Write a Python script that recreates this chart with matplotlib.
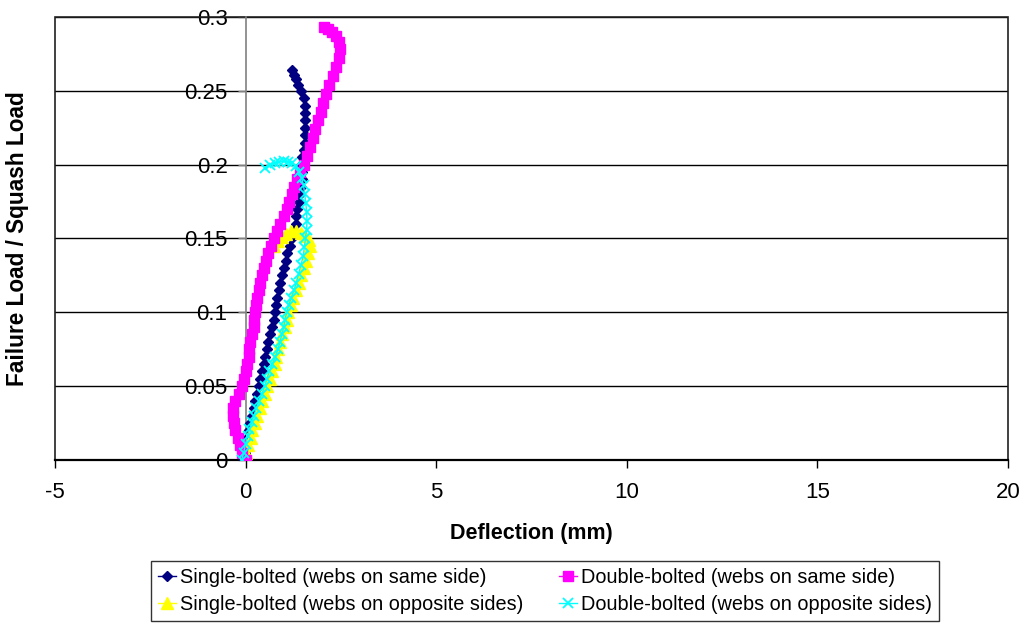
import matplotlib
matplotlib.use("Agg")
import matplotlib.pyplot as plt
from matplotlib.patches import Rectangle

plt.rcParams['font.family'] = ['Liberation Sans', 'DejaVu Sans']

# Single-bolted, webs on same side
single_same_x = [-0.03, -0.02, 0.00, 0.04, 0.08, 0.12, 0.17, 0.21, 0.25, 0.30, 0.34, 0.39,
                 0.43, 0.48, 0.52, 0.56, 0.60, 0.65, 0.69, 0.74, 0.78, 0.80, 0.82, 0.87,
                 0.91, 0.96, 1.00, 1.05, 1.09, 1.16, 1.22, 1.27, 1.31, 1.33, 1.35, 1.39,
                 1.42, 1.45, 1.48, 1.47, 1.46, 1.47, 1.53, 1.55, 1.56, 1.57, 1.57, 1.57,
                 1.55, 1.52, 1.45, 1.38, 1.32, 1.27, 1.22]
single_same_y = [0.000, 0.005, 0.010, 0.015, 0.020, 0.025, 0.030, 0.035, 0.040, 0.045, 0.050, 0.055,
                 0.060, 0.065, 0.070, 0.075, 0.080, 0.085, 0.090, 0.095, 0.100, 0.105, 0.110, 0.115,
                 0.120, 0.125, 0.130, 0.135, 0.140, 0.145, 0.150, 0.155, 0.160, 0.165, 0.170, 0.175,
                 0.180, 0.185, 0.190, 0.195, 0.200, 0.205, 0.210, 0.215, 0.220, 0.225, 0.230, 0.235,
                 0.240, 0.245, 0.250, 0.254, 0.258, 0.261, 0.264]

# Double-bolted, webs on same side
double_same_x = [0.00, -0.09, -0.14, -0.21, -0.27, -0.31, -0.33, -0.32, -0.27, -0.18, -0.10, -0.05,
                 0.00, 0.04, 0.08, 0.10, 0.12, 0.16, 0.21, 0.23, 0.25, 0.28, 0.30, 0.35,
                 0.39, 0.43, 0.47, 0.53, 0.60, 0.67, 0.74, 0.82, 0.91, 1.00, 1.08, 1.15,
                 1.22, 1.28, 1.35, 1.44, 1.53, 1.60, 1.68, 1.76, 1.83, 1.90, 1.97, 2.04,
                 2.12, 2.20, 2.28, 2.37, 2.44, 2.48, 2.44, 2.36, 2.26, 2.15, 2.05]
double_same_y = [0.000, 0.005, 0.010, 0.015, 0.020, 0.025, 0.030, 0.035, 0.040, 0.045, 0.050, 0.055,
                 0.060, 0.065, 0.070, 0.075, 0.080, 0.085, 0.090, 0.095, 0.100, 0.105, 0.110, 0.115,
                 0.120, 0.125, 0.130, 0.135, 0.140, 0.145, 0.150, 0.155, 0.160, 0.165, 0.170, 0.175,
                 0.180, 0.185, 0.190, 0.195, 0.200, 0.206, 0.212, 0.218, 0.224, 0.230, 0.236, 0.242,
                 0.248, 0.254, 0.260, 0.266, 0.272, 0.278, 0.283, 0.287, 0.290, 0.292, 0.293]

# Single-bolted, webs on opposite sides
single_opp_x = [0.00, 0.02, 0.06, 0.13, 0.18, 0.24, 0.31, 0.38, 0.44, 0.50, 0.56, 0.63,
                0.70, 0.76, 0.80, 0.85, 0.89, 0.96, 1.03, 1.08, 1.12, 1.18, 1.24, 1.31,
                1.39, 1.46, 1.52, 1.58, 1.64, 1.69, 1.66, 1.56, 1.45, 1.33, 1.20, 1.07,
                0.95, 0.84, 0.74]
single_opp_y = [0.000, 0.005, 0.010, 0.015, 0.020, 0.025, 0.030, 0.035, 0.040, 0.045, 0.050, 0.055,
                0.060, 0.065, 0.070, 0.075, 0.080, 0.085, 0.090, 0.095, 0.100, 0.105, 0.110, 0.115,
                0.120, 0.125, 0.130, 0.135, 0.140, 0.145, 0.149, 0.152, 0.154, 0.155, 0.155, 0.153,
                0.151, 0.148, 0.145]

# Double-bolted, webs on opposite sides
double_opp_x = [-0.10, -0.05, 0.00, 0.05, 0.10, 0.16, 0.22, 0.28, 0.35, 0.43, 0.50, 0.56,
                0.62, 0.70, 0.78, 0.85, 0.90, 0.95, 1.00, 1.03, 1.08, 1.13, 1.20, 1.27,
                1.33, 1.39, 1.45, 1.51, 1.54, 1.57, 1.60, 1.61, 1.60, 1.58, 1.55, 1.52,
                1.47, 1.40, 1.32, 1.22, 1.10, 1.00, 0.88, 0.76, 0.64, 0.52]
double_opp_y = [0.000, 0.005, 0.011, 0.016, 0.021, 0.026, 0.030, 0.035, 0.040, 0.045, 0.050, 0.055,
                0.060, 0.065, 0.070, 0.075, 0.080, 0.085, 0.090, 0.095, 0.100, 0.105, 0.110, 0.115,
                0.120, 0.126, 0.132, 0.138, 0.144, 0.150, 0.156, 0.162, 0.168, 0.174, 0.180, 0.186,
                0.191, 0.195, 0.199, 0.201, 0.202, 0.2025, 0.202, 0.201, 0.200, 0.198]

x_ticks = [-5, 0, 5, 10, 15, 20]
y_ticks = [0, 0.05, 0.1, 0.15, 0.2, 0.25, 0.3]
y_tick_labels = ['0', '0.05', '0.1', '0.15', '0.2', '0.25', '0.3']

fig = plt.figure(figsize=(10.29, 6.24), dpi=100)
ax = fig.add_axes([0.05345, 0.26282, 0.92614, 0.70994])

ax.plot(single_same_x, single_same_y, color='#000080', marker='D', markersize=5.5,
        linewidth=1, label='Single-bolted (webs on same side)', zorder=3)
ax.plot(single_opp_x, single_opp_y, color='#FFFF00', marker='^', markersize=8,
        linewidth=1, label='Single-bolted (webs on opposite sides)', zorder=3)
ax.plot(double_same_x, double_same_y, color='#FF00FF', marker='s', markersize=7.5,
        linewidth=1, label='Double-bolted (webs on same side)', zorder=3)
ax.plot(double_opp_x, double_opp_y, color='#00FFFF', marker='x', markersize=7.5,
        markeredgewidth=1.3, linewidth=1, label='Double-bolted (webs on opposite sides)',
        zorder=3)

ax.set_xlim(-5, 20)
ax.set_ylim(0, 0.3)
ax.set_xticks(x_ticks)
ax.set_xticklabels([str(v) for v in x_ticks])
ax.set_yticks(y_ticks)
ax.set_yticklabels(y_tick_labels)

# horizontal gridlines
ax.yaxis.grid(True, color='black', linewidth=1)
ax.set_axisbelow(True)

# value axis crossing at x = 0
ax.spines['left'].set_position(('data', 0))
ax.spines['left'].set_color('#808080')
ax.spines['left'].set_linewidth(1.2)
ax.spines['top'].set_visible(False)
ax.spines['right'].set_visible(False)
ax.spines['bottom'].set_linewidth(1.6)
ax.spines['bottom'].set_color('black')

# plot area frame
ax.add_patch(Rectangle((0, 0), 1, 1, transform=ax.transAxes, fill=False,
                       edgecolor='#202020', linewidth=1.2, clip_on=False, zorder=1))

ax.tick_params(axis='x', direction='out', length=6, width=1, color='black',
               labelsize=16, pad=10)
ax.tick_params(axis='y', direction='out', length=6, width=1, color='#808080',
               labelsize=16, pad=7)

ax.set_xlabel('Deflection (mm)', fontsize=15.5, fontweight='bold', labelpad=14)
fig.text(18 / 1029, 1 - 238.5 / 624, 'Failure Load / Squash Load', rotation=90,
         ha='center', va='center', fontsize=16.3, fontweight='bold')

leg = fig.legend(loc='center', bbox_to_anchor=(0.5296, 0.0535), ncol=2,
                 fontsize=14.3, frameon=True, fancybox=False, edgecolor='black',
                 handlelength=0.9, handletextpad=0.2, columnspacing=1.8,
                 labelspacing=0.4, borderpad=0.35, borderaxespad=0)
leg.get_frame().set_linewidth(1)

fig.savefig('out.png', dpi=100)
